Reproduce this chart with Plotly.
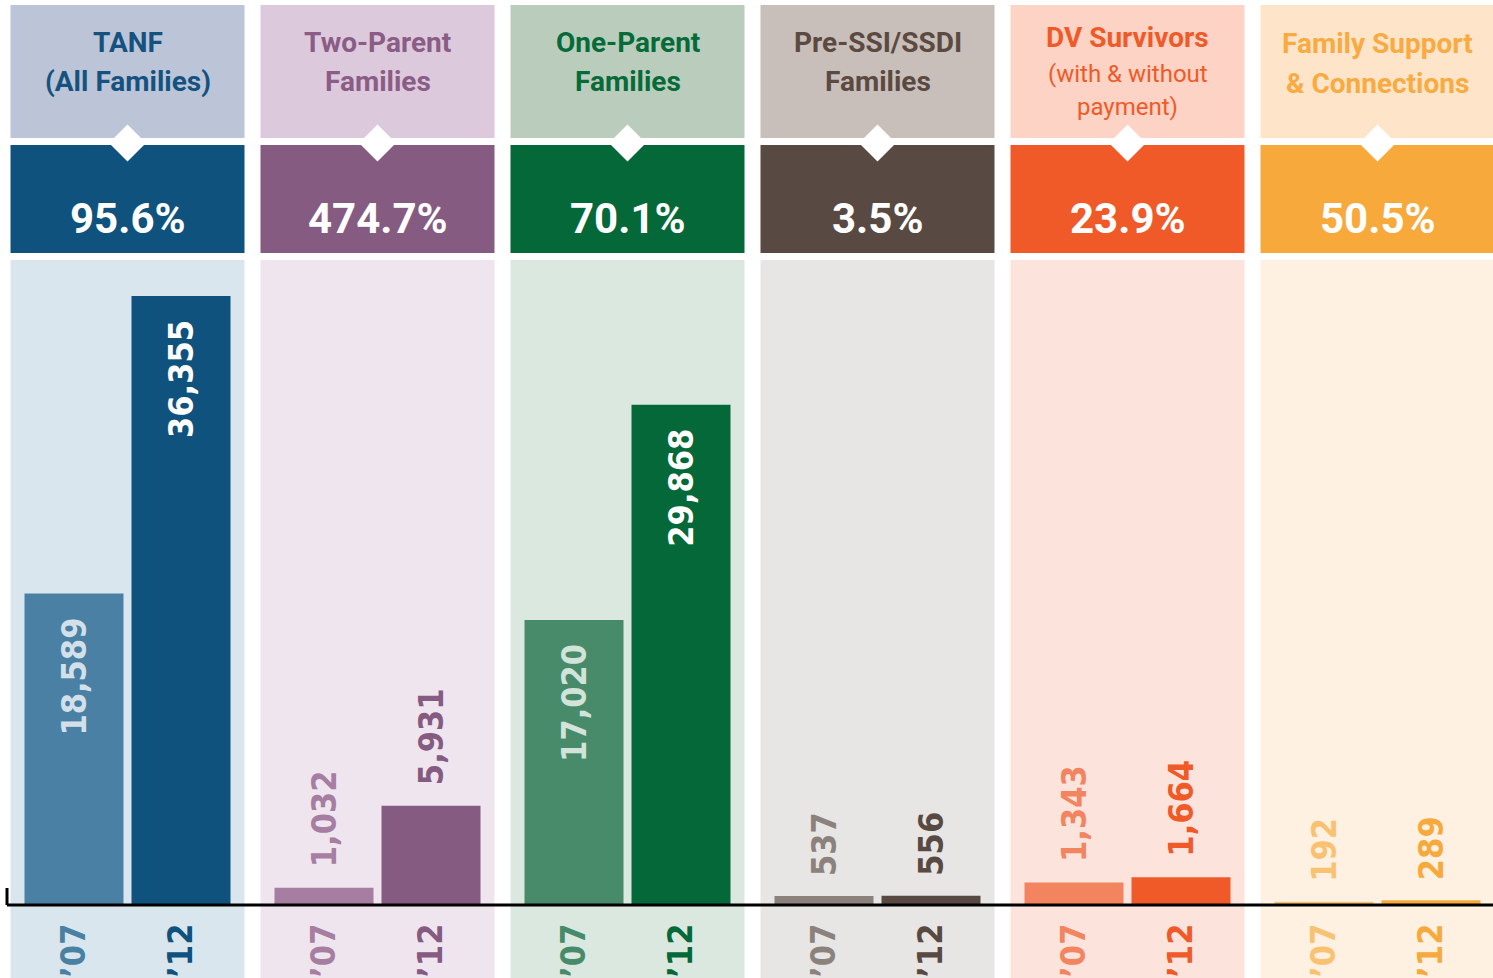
import plotly.graph_objects as go

# ---------------- data ----------------
categories = ["TANF (All Families)", "Two-Parent Families", "One-Parent Families",
              "Pre-SSI/SSDI Families", "DV Survivors (with & without payment)",
              "Family Support & Connections"]
title_lines = [["TANF", "(All Families)"], ["Two-Parent", "Families"], ["One-Parent", "Families"],
               ["Pre-SSI/SSDI", "Families"], ["DV Survivors", "(with & without", "payment)"],
               ["Family Support", "& Connections"]]
pct_labels = ["95.6%", "474.7%", "70.1%", "3.5%", "23.9%", "50.5%"]
year_labels = ["’07", "’12"]
values_07 = [18589, 1032, 17020, 537, 1343, 192]
values_12 = [36355, 5931, 29868, 556, 1664, 289]

# ---------------- styles ----------------
dark_col = ["#10527e", "#855b82", "#056838", "#584a42", "#f05a28", "#f8a93c"]
light_col = ["#4a80a3", "#a57ea2", "#478b6a", "#8b827d", "#f2845f", "#f8c272"]
pale_txt = ["#d3e0ea", "#efe5ee", "#d2e3d9", "#e7e6e4", "#fce4dd", "#fef1e1"]
header_bg = ["#bcc5d8", "#dcc9dc", "#bacdbd", "#c9bfba", "#fcd3c4", "#fee5ca"]
column_bg = ["#dae6ed", "#efe5ee", "#dbe8e0", "#e7e6e4", "#fce4dd", "#fef1e1"]
title_col = ["#15527f", "#8a5c86", "#076a39", "#5a4a42", "#f05a28", "#f9aa40"]

NARROW = "Liberation Sans Narrow, DejaVu Sans Condensed, Roboto Condensed, Arial Narrow, sans-serif"
WIDE = "Roboto, Liberation Sans, Arial, sans-serif"

W, H = 1493, 978
PLOT_H = 905          # plot area height (baseline position)
UNIT = 250.0          # px per category
X0 = 127.5            # px of first category centre
BAR_W = 99 / UNIT
HALF_PANEL = 117 / UNIT
YMAX = 36355 * PLOT_H / 609.0


def py(p):
    """pixel-from-top -> paper y"""
    return (PLOT_H - p) / PLOT_H


idx = list(range(len(categories)))
fig = go.Figure()

fig.add_trace(go.Bar(x=idx, y=values_07, width=BAR_W, offset=-0.214 - BAR_W / 2,
                     marker=dict(color=light_col, line=dict(width=0)),
                     name=year_labels[0], hoverinfo="y"))
fig.add_trace(go.Bar(x=idx, y=values_12, width=BAR_W, offset=0.214 - BAR_W / 2,
                     marker=dict(color=dark_col, line=dict(width=0)),
                     name=year_labels[1], hoverinfo="y"))

shapes = []
annotations = []
for i in idx:
    # backgrounds
    shapes.append(dict(type="rect", xref="x", yref="paper", x0=i - HALF_PANEL, x1=i + HALF_PANEL,
                       y0=py(5), y1=py(138), fillcolor=header_bg[i], line_width=0, layer="below"))
    shapes.append(dict(type="rect", xref="x", yref="paper", x0=i - HALF_PANEL, x1=i + HALF_PANEL,
                       y0=py(145), y1=py(253), fillcolor=dark_col[i], line_width=0, layer="below"))
    shapes.append(dict(type="rect", xref="x", yref="paper", x0=i - HALF_PANEL, x1=i + HALF_PANEL,
                       y0=py(260), y1=py(990), fillcolor=column_bg[i], line_width=0, layer="below"))
    # diamond
    cy = py(143)
    hw, hh = 18.5 / UNIT, 18.5 / PLOT_H
    shapes.append(dict(type="path", xref="x", yref="paper",
                       path=f"M {i - hw} {cy} L {i} {cy + hh} L {i + hw} {cy} L {i} {cy - hh} Z",
                       fillcolor="white", line_width=0, layer="below"))
    # titles
    lines = title_lines[i]
    ys = [42, 81] if len(lines) == 2 else [38, 74, 107]
    if i == 5:
        ys = [44, 84]
    for k, (t, yy) in enumerate(zip(lines, ys)):
        bold = not (len(lines) == 3 and k > 0)
        annotations.append(dict(x=i, y=py(yy), xref="x", yref="paper", text=t, showarrow=False,
                                xanchor="center", yanchor="middle",
                                font=dict(family=WIDE, size=28 if bold else 24,
                                          weight="bold" if bold else "normal", color=title_col[i])))
    # percentage
    annotations.append(dict(x=i, y=py(218), xref="x", yref="paper", text=pct_labels[i],
                            showarrow=False, xanchor="center", yanchor="middle",
                            font=dict(family=WIDE, size=42, weight="bold", color="white")))
    # value labels
    for vals, off, txtcol_in, col in ((values_07, -0.214, pale_txt[i], light_col[i]),
                                      (values_12, 0.214, "white", dark_col[i])):
        v = vals[i]
        inside = v > 10000
        annotations.append(dict(x=i + off, y=v, xref="x", yref="y", text=f"{v:,}",
                                showarrow=False, textangle=-90, xanchor="center",
                                yanchor="top" if inside else "bottom",
                                yshift=-22 if inside else 18,
                                font=dict(family=NARROW, size=34, weight="bold",
                                          color=txtcol_in if inside else col)))

# baseline and left tick (paper refs so they are not clipped by the plot area)
shapes.append(dict(type="line", xref="paper", yref="paper", x0=7 / W, x1=1.0, y0=0, y1=0,
                   line=dict(color="black", width=3), layer="above"))
shapes.append(dict(type="line", xref="paper", yref="paper", x0=7 / W, x1=7 / W, y0=0, y1=17 / PLOT_H,
                   line=dict(color="black", width=3), layer="above"))

tickvals, ticktext = [], []
for i in idx:
    tickvals += [i - 0.214, i + 0.214]
    ticktext += [f"<span style='color:{light_col[i]}'>{year_labels[0]}</span>",
                 f"<span style='color:{dark_col[i]}'>{year_labels[1]}</span>"]

fig.update_layout(
    width=W, height=H,
    margin=dict(l=0, r=0, t=0, b=H - PLOT_H, autoexpand=False),
    paper_bgcolor="white", plot_bgcolor="white",
    barmode="overlay", showlegend=False,
    shapes=shapes, annotations=annotations,
    xaxis=dict(range=[-X0 / UNIT, (W - X0) / UNIT], showgrid=False, zeroline=False, showline=False,
               tickmode="array", tickvals=tickvals, ticktext=ticktext, tickangle=-90,
               ticks="outside", ticklen=4, tickcolor="rgba(0,0,0,0)",
               tickfont=dict(family=NARROW, size=34, weight="bold"), fixedrange=True),
    yaxis=dict(range=[0, YMAX], showgrid=False, zeroline=False, showline=False,
               showticklabels=False, fixedrange=True),
)

fig.write_html("out.html", config={"displayModeBar": False},
               post_script="document.body.style.margin='0';document.body.style.padding='0';"
                           "document.body.style.overflow='hidden';")
